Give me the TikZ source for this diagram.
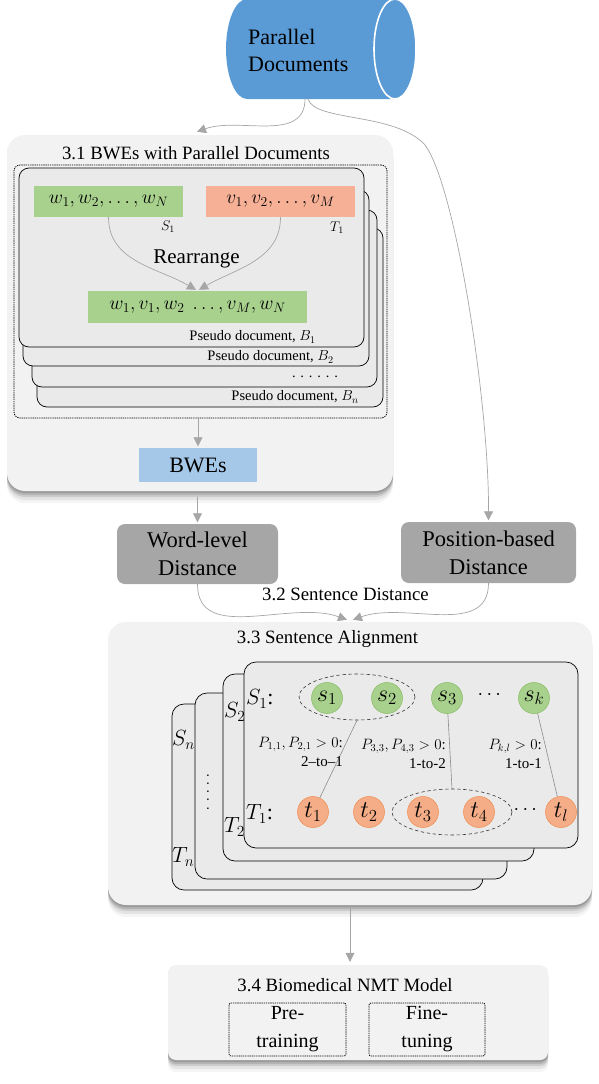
\RequirePackage{fix-cm}
\documentclass[tikz,border=0pt]{standalone}
\usepackage{fontspec}
\setmainfont{Liberation Serif}
\usepackage{amsmath}
\usepackage{xcolor}
\usepackage{tikz}
\usetikzlibrary{arrows.meta, calc, shadows, shapes.geometric}
\definecolor{DocBlue}{HTML}{5B9BD5}
\definecolor{PanelGray}{HTML}{F2F2F2}
\definecolor{CardGray}{HTML}{EAEAEA}
\definecolor{DistGray}{HTML}{A6A6A6}
\definecolor{ArrGray}{HTML}{A6A6A6}
\definecolor{SrcGreen}{HTML}{A9D18E}
\definecolor{SrcGreenDark}{HTML}{8DBF6B}
\definecolor{TgtOrange}{HTML}{F6B096}
\definecolor{TgtCircle}{HTML}{F5AD88}
\definecolor{TgtOrangeDark}{HTML}{F0935F}
\definecolor{BweBlue}{HTML}{A6C8E8}
\newcommand{\fsz}[2]{\fontsize{#1}{#2}\selectfont}
\tikzset{
  arr/.style={draw=ArrGray, line width=0.7pt, -{Triangle[length=9pt, width=9pt]}},
  panel/.style={fill=PanelGray, rounded corners=18pt, inner sep=0pt,
    drop shadow={shadow xshift=0pt, shadow yshift=-2pt, opacity=.14, fill=black},
    drop shadow={shadow xshift=0pt, shadow yshift=-4pt, opacity=.12, fill=black},
    drop shadow={shadow xshift=0pt, shadow yshift=-6pt, opacity=.10, fill=black},
    drop shadow={shadow xshift=0pt, shadow yshift=-9pt, opacity=.07, fill=black},
    drop shadow={shadow xshift=0pt, shadow yshift=-12pt, opacity=.04, fill=black}},
  card/.style={draw=black, line width=0.7pt, fill=CardGray, rounded corners=10pt},
  dotframe/.style={draw=black, line width=0.8pt, dash pattern=on 0.8pt off 1.4pt, inner sep=0pt},
  srcbox/.style={fill=SrcGreen, inner sep=0pt, font=\fsz{19.5}{23}},
  tgtbox/.style={fill=TgtOrange, inner sep=0pt, font=\fsz{19.5}{23}},
  distbox/.style={fill=DistGray, rounded corners=8pt, inner sep=0pt, align=center, font=\fsz{22.5}{28}},
  snode/.style={circle, fill=SrcGreen, draw=SrcGreenDark, line width=0.6pt, minimum size=31pt, inner sep=0pt, font=\fsz{24}{27}},
  tnode/.style={circle, fill=TgtCircle, draw=TgtOrangeDark, line width=0.6pt, minimum size=31pt, inner sep=0pt, font=\fsz{24}{27}},
  group/.style={ellipse, draw=black!80, dashed, line width=0.6pt, inner sep=0pt},
  link/.style={draw=black!45, line width=0.6pt},
  small/.style={font=\fsz{14.5}{17}, inner sep=0pt},
  title/.style={font=\fsz{18.8}{22}, inner sep=0pt, anchor=base}
}

\begin{document}
\begin{tikzpicture}[x=1pt, y=1pt, line cap=round]
  \useasboundingbox (0,0) rectangle (598,-1084);

  % parallel documents
  \fill[DocBlue] (247,1) -- (395,1) arc(90:-90:21pt and 50pt) -- (247,-99) arc(270:90:21pt and 50pt) -- cycle;
  \draw[white, line width=1.6pt] (395,-49) ellipse (21pt and 50pt);
  \node[anchor=west, align=left, inner sep=0pt, font=\fsz{22}{27}] (docs) at (248,-50) {Parallel\\Documents};
  \coordinate (docsout) at (305,-99);

  % 3.1
  \node[panel, minimum width=386pt, minimum height=356pt] (bwepanel) at (200,-313) {};
  \node[title] (bwetitle) at (196,-159) {3.1 BWEs with Parallel Documents};
  \node[dotframe, rounded corners=6pt, minimum width=373pt, minimum height=253pt] (pdocs) at (200.5,-291.5) {};
  \draw[card] (37,-228) rectangle (383,-407);
  \draw[card] (32,-210) rectangle (377,-387);
  \draw[card] (23,-190) rectangle (369,-366);
  \draw[card] (19,-168) rectangle (364,-347);

  \node[srcbox, minimum width=149pt, minimum height=31pt] (srcdoc) at (108.5,-201.5) {$w_1, w_2, \ldots, w_N$};
  \node[tgtbox, minimum width=149pt, minimum height=31pt] (tgtdoc) at (280.5,-201.5) {$v_1, v_2, \ldots, v_M$};
  \node[font=\fsz{14}{16}, inner sep=0pt] (srclab) at (168,-227) {$S_1$};
  \node[font=\fsz{14}{16}, inner sep=0pt] (tgtlab) at (337,-228) {$T_1$};
  \node[font=\fsz{21}{25}, inner sep=0pt, anchor=base] (rearr) at (196.5,-263) {Rearrange};
  \node[srcbox, minimum width=219pt, minimum height=32pt] (pseudo) at (197.5,-307) {$w_1, v_1, w_2\ \ldots, v_M, w_N$};
  \node[small, anchor=east] (bone) at (316,-337) {Pseudo document, $B_1$};
  \node[small, anchor=east] (btwo) at (334,-357) {Pseudo document, $B_2$};
  \node[small] (bdots) at (315,-377) {. . . . . .};
  \node[small, anchor=east] (bn) at (359,-397) {Pseudo document, $B_n$};

  \node[fill=BweBlue, minimum width=118pt, minimum height=34pt, inner sep=0pt, font=\fsz{22}{26}] (bwe) at (198,-465) {BWEs};

  \draw[arr] (srcdoc.south) to[out=-90, in=150] ($(pseudo.north)+(-1.5,1)$);
  \draw[arr] (tgtdoc.south) to[out=-90, in=30] ($(pseudo.north)+(1.5,1)$);
  \draw[arr] (bwe.north |- pdocs.south) -- ($(bwe.north)+(0,1.5)$);

  % 3.2
  \node[distbox, minimum width=161pt, minimum height=60pt] (wordd) at (197.5,-554) {Word-level\\Distance};
  \node[distbox, minimum width=175pt, minimum height=61pt] (posd) at (488.5,-552.5) {Position-based\\Distance};
  \node[title] (sdtitle) at (345.5,-600) {3.2 Sentence Distance};

  \draw[arr] (docsout) to[out=-90, in=20] ($(bwepanel.north)+(-3,3)$);
  \draw[arr] ($(docsout)+(3,0)$) .. controls (315,-122) and (395,-112) .. (425,-145)
    .. controls (455,-185) and (489,-400) .. ($(posd.north)+(0,1.5)$);
  \draw[arr] ($(wordd.north |- bwepanel.south)+(0,-6)$) -- ($(wordd.north)+(0,1.5)$);

  % 3.3
  \node[panel, minimum width=484pt, minimum height=283pt] (alignpanel) at (350,-763.5) {};
  \node[title] (aligntitle) at (327.5,-643) {3.3 Sentence Alignment};

  \draw[arr] (wordd.south) to[out=-90, in=160] ($(alignpanel.north)+(-3,2)$);
  \draw[arr] (posd.south) to[out=-90, in=20] ($(alignpanel.north)+(3,2)$);

  \draw[card, rounded corners=12pt] (172,-704) rectangle (483,-890);
  \draw[card, rounded corners=12pt] (195,-693) rectangle (507,-879);
  \draw[card, rounded corners=12pt] (223,-674) rectangle (534,-861);
  \draw[card, rounded corners=12pt] (244,-662) rectangle (578,-848);

  \node[font=\fsz{22}{26}, inner sep=0pt, anchor=west] (sn) at (172,-740) {$S_n$};
  \node[font=\fsz{22}{26}, inner sep=0pt, anchor=west] (tn) at (172,-857) {$T_n$};
  \node[font=\fsz{14}{16}, inner sep=0pt, rotate=90] (vdots) at (208,-792) {. . . . .};
  \node[font=\fsz{22}{26}, inner sep=0pt, anchor=west] (stwo) at (224,-712) {$S_2$};
  \node[font=\fsz{22}{26}, inner sep=0pt, anchor=west] (ttwo) at (224,-827) {$T_2$};
  \node[font=\fsz{22}{26}, inner sep=0pt, anchor=west] (sone) at (246,-699) {$S_1$:};
  \node[font=\fsz{22}{26}, inner sep=0pt, anchor=west] (tone) at (246,-814) {$T_1$:};

  \node[group, minimum width=116pt, minimum height=46pt] (grpa) at (357,-697) {};
  \node[group, minimum width=120pt, minimum height=46pt] (grpb) at (452,-812) {};

  \node[snode] (s1) at (327,-698) {$s_1$};
  \node[snode] (s2) at (387,-698) {$s_2$};
  \node[snode] (s3) at (447,-698) {$s_3$};
  \node[font=\fsz{20}{24}, inner sep=0pt] (sdots) at (491,-695) {$\cdots$};
  \node[snode] (sk) at (534,-698) {$s_k$};

  \node[tnode] (t1) at (313,-812) {$t_1$};
  \node[tnode] (t2) at (369,-812) {$t_2$};
  \node[tnode] (t3) at (423,-812) {$t_3$};
  \node[tnode] (t4) at (479,-812) {$t_4$};
  \node[font=\fsz{20}{24}, inner sep=0pt] (tdots) at (527,-810) {$\cdots$};
  \node[tnode] (tl) at (561,-812) {$t_l$};

  \draw[link] (grpa.south) -- (t1);
  \draw[link] (s3) -- (grpb.north);
  \draw[link] (sk) -- (tl);

  \node[font=\fsz{15}{19}, inner sep=0pt, align=right, anchor=east] (pa) at (343,-752) {$P_{1,1}, P_{2,1} > 0$:\\2--to--1};
  \node[font=\fsz{15}{19}, inner sep=0pt, align=right, anchor=east] (pb) at (446,-754) {$P_{3,3}, P_{4,3} > 0$:\\1-to-2};
  \node[font=\fsz{15}{19}, inner sep=0pt, align=right, anchor=east] (pc) at (542,-754) {$P_{k,l} > 0$:\\1-to-1};

  % 3.4
  \node[panel, rounded corners=8pt, minimum width=380pt, minimum height=95pt] (nmtpanel) at (358,-1012.5) {};
  \node[title] (nmttitle) at (345,-991) {3.4 Biomedical NMT Model};
  \node[dotframe, rounded corners=2pt, minimum width=117pt, minimum height=53pt, align=center, font=\fsz{20}{28}] (pretrain) at (287.5,-1029.5) {Pre-\\training};
  \node[dotframe, rounded corners=2pt, minimum width=116pt, minimum height=53pt, align=center, font=\fsz{20}{28}] (finetune) at (427,-1029.5) {Fine-\\tuning};

  \draw[arr] (alignpanel.south) -- ($(alignpanel.south |- nmtpanel.north)+(0,3)$);

\end{tikzpicture}
\end{document}
